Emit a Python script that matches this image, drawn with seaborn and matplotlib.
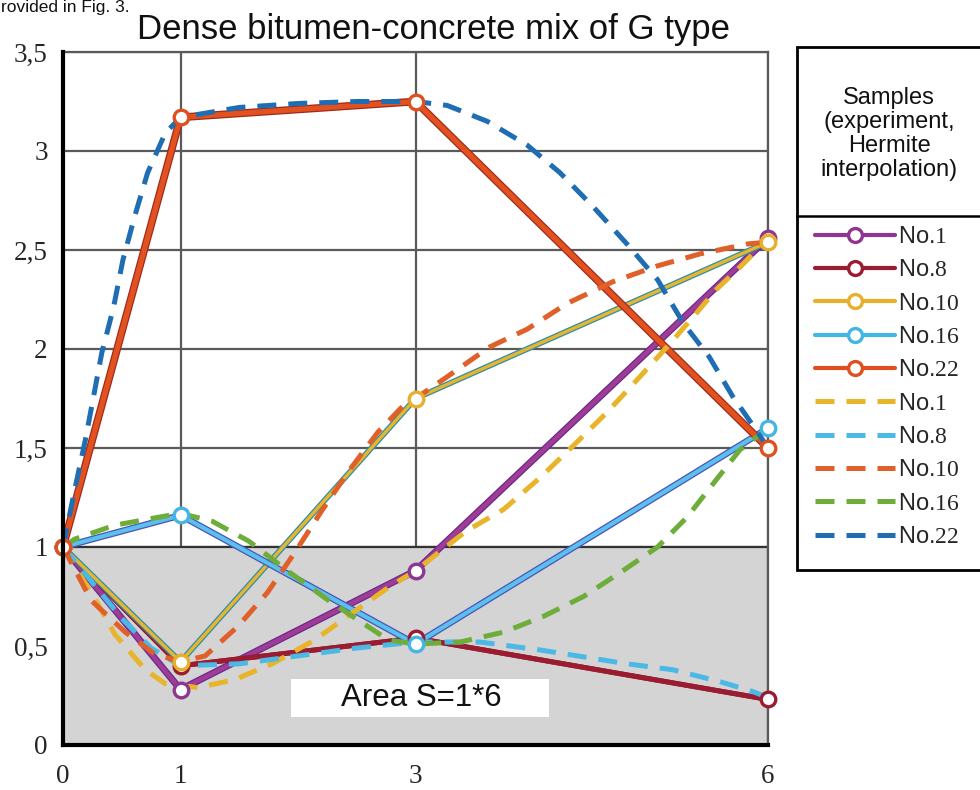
import matplotlib
matplotlib.use("Agg")
import matplotlib.pyplot as plt
import matplotlib.patheffects as pe
from matplotlib.lines import Line2D
from matplotlib.patches import Rectangle
import seaborn as sns
import pandas as pd

# ---------------- data ----------------
x_exp = [0, 1, 3, 6]
exp_no1 = [1.00, 0.28, 0.88, 2.56]
exp_no8 = [1.00, 0.40, 0.54, 0.23]
exp_no10 = [1.00, 0.42, 1.75, 2.54]
exp_no16 = [1.00, 1.16, 0.51, 1.60]
exp_no22 = [1.00, 3.17, 3.25, 1.50]

# Hermite interpolation curves
herm_no1_x = [0, 0.27, 0.44, 0.70, 0.87, 1.15, 1.46, 1.78, 2.14, 2.47, 2.78, 3.0, 3.43, 3.75, 4.06, 4.34, 4.63, 4.91, 5.17, 5.36, 5.56, 5.79, 6]
herm_no1_y = [1.00, 0.74, 0.56, 0.38, 0.31, 0.29, 0.33, 0.41, 0.53, 0.67, 0.80, 0.88, 1.08, 1.19, 1.35, 1.51, 1.68, 1.86, 2.03, 2.16, 2.30, 2.43, 2.56]
herm_no8_x = [0, 0.25, 0.5, 0.75, 1, 1.5, 2, 2.5, 3, 3.55, 4.06, 4.8, 5.19, 5.59, 5.87, 6]
herm_no8_y = [1.00, 0.82, 0.64, 0.49, 0.40, 0.41, 0.45, 0.49, 0.52, 0.52, 0.48, 0.41, 0.38, 0.32, 0.27, 0.24]
herm_no10_x = [0, 0.24, 0.53, 0.78, 1, 1.21, 1.49, 1.74, 1.97, 2.21, 2.44, 2.68, 2.89, 3.0, 3.27, 3.63, 3.95, 4.29, 4.68, 5.06, 5.42, 5.82, 6]
herm_no10_y = [1.00, 0.73, 0.57, 0.46, 0.42, 0.45, 0.60, 0.77, 0.97, 1.19, 1.39, 1.58, 1.71, 1.75, 1.86, 2.01, 2.10, 2.23, 2.34, 2.42, 2.48, 2.53, 2.54]
herm_no16_x = [0, 0.1, 0.44, 0.81, 1, 1.27, 1.58, 1.91, 2.26, 2.54, 2.77, 3.0, 3.38, 3.75, 4.09, 4.43, 4.74, 5.06, 5.31, 5.56, 5.76, 6]
herm_no16_y = [1.00, 1.04, 1.11, 1.15, 1.17, 1.13, 1.03, 0.88, 0.73, 0.62, 0.53, 0.51, 0.52, 0.57, 0.65, 0.75, 0.87, 1.00, 1.15, 1.34, 1.49, 1.60]
herm_no22_x = [0, 0.1, 0.19, 0.33, 0.43, 0.51, 0.61, 0.72, 0.87, 1, 1.5, 2, 2.5, 3, 3.27, 3.61, 3.95, 4.23, 4.51, 4.8, 5.06, 5.28, 5.5, 5.7, 5.9, 6]
herm_no22_y = [1.00, 1.29, 1.54, 1.98, 2.21, 2.45, 2.67, 2.89, 3.09, 3.17, 3.22, 3.24, 3.25, 3.25, 3.23, 3.15, 3.03, 2.89, 2.72, 2.53, 2.35, 2.13, 1.96, 1.76, 1.59, 1.50]

x_ticks = [0, 1, 3, 6]
y_ticks = [0, 0.5, 1, 1.5, 2, 2.5, 3, 3.5]
y_tick_labels = ["0", "0,5", "1", "1,5", "2", "2,5", "3", "3,5"]
sample_names = ["No.1", "No.8", "No.10", "No.16", "No.22"]

title = "Dense bitumen-concrete mix of G type"
legend_title = "Samples\n(experiment,\nHermite\ninterpolation)"
area_label = "Area S=1*6"
top_fragment = "rovided in Fig. 3."

# ---------------- style ----------------
sns.set_style("white")
plt.rcParams["font.family"] = ["Liberation Sans", "DejaVu Sans"]
plt.rcParams["mathtext.fontset"] = "custom"
plt.rcParams["mathtext.rm"] = "Liberation Serif"
plt.rcParams["mathtext.it"] = "Liberation Serif"

exp_colors = ["#8E3690", "#9B1B30", "#E8B02A", "#45B5E5", "#E0501E"]
exp_outer = ["#6A2A8C", "#8A1626", "#2F8FA5", "#4B55B5", "#A02A1E"]
exp_inner = ["#A03C95", "#9B1B30", "#E8B530", "#5BC0EE", "#E2521E"]
exp_w = [(5.0, 3.2), (3.6, 3.6), (4.2, 2.4), (4.8, 3.0), (5.6, 3.8)]
herm_colors = ["#E8B42A", "#4CB8E6", "#E0602A", "#6EAD3A", "#1F6EB4"]

W, H = 980, 790
fig = plt.figure(figsize=(W / 100, H / 100), dpi=100)
ax = fig.add_axes([63 / W, 1 - 745 / H, (768 - 63) / W, (745 - 52) / H])

ax.set_xlim(0, 6)
ax.set_ylim(0, 3.5)

# grid
grid_c = "#5a5a5a"
for yv in y_ticks[1:]:
    ax.axhline(yv, color=grid_c, lw=1.6, zorder=1)
for xv in x_ticks[1:]:
    ax.axvline(xv, color=grid_c, lw=1.6, zorder=1)

# gray area
ax.add_patch(Rectangle((0, 0), 6, 1, facecolor="#D4D4D4", edgecolor="#333333", lw=1.6, zorder=1.5))
ax.add_patch(Rectangle((1.94, 0.14), 2.2, 0.195, facecolor="white", edgecolor="none", zorder=1.6))
ax.text(3.05, 0.237, area_label, ha="center", va="center", fontsize=22.5, color="#111111", zorder=1.7)

exp_series = [exp_no1, exp_no8, exp_no10, exp_no16, exp_no22]
herm_series = [(herm_no1_x, herm_no1_y), (herm_no8_x, herm_no8_y), (herm_no10_x, herm_no10_y),
               (herm_no16_x, herm_no16_y), (herm_no22_x, herm_no22_y)]

# solid experimental lines
for i, ys in enumerate(exp_series):
    ow, iw = exp_w[i]
    sns.lineplot(x=x_exp, y=ys, ax=ax, color=exp_inner[i], lw=iw, sort=False, estimator=None,
                 clip_on=False, zorder=3 + i * 0.1,
                 path_effects=[pe.Stroke(linewidth=ow, foreground=exp_outer[i]), pe.Normal()])

# dashed Hermite curves
for i, (hx, hy) in enumerate(herm_series):
    sns.lineplot(x=hx, y=hy, ax=ax, color=herm_colors[i], lw=3.6, sort=False, estimator=None,
                 linestyle=(0, (3.8, 2.4)), clip_on=False, zorder=4 + i * 0.1)

# markers
for i, ys in enumerate(exp_series):
    sns.scatterplot(x=x_exp, y=ys, ax=ax, marker="o", s=110, facecolor="white",
                    edgecolor=exp_colors[i], linewidth=2.4, zorder=6 + i * 0.1, clip_on=False)

# axes styling
ax.set_xticks(x_ticks)
ax.set_xticklabels([str(v) for v in x_ticks], fontfamily="Liberation Serif", fontsize=19.5)
ax.set_yticks(y_ticks)
ax.set_yticklabels(y_tick_labels, fontfamily="Liberation Serif", fontsize=19.5)
ax.tick_params(axis="both", direction="out", length=7, width=2.5, color="black", pad=4)
ax.tick_params(axis="x", pad=7)
ax.set_xlabel("")
ax.set_ylabel("")
for s in ["left", "bottom"]:
    ax.spines[s].set_color("black")
    ax.spines[s].set_linewidth(3)
    ax.spines[s].set_zorder(7)
for s in ["top", "right"]:
    ax.spines[s].set_color(grid_c)
    ax.spines[s].set_linewidth(1.6)

fig.text(433 / W, 1 - 29 / H, title, ha="center", va="center", fontsize=25, color="#111111")
fig.text(1 / W, 1 - 12 / H, top_fragment, ha="left", va="baseline", fontsize=12.5, color="#111111")

# legend box
fig.add_artist(Rectangle((797 / W, 1 - 570 / H), 200 / W, (570 - 47) / H, transform=fig.transFigure,
                         facecolor="white", edgecolor="black", lw=2, zorder=0.5))
fig.add_artist(Line2D([797 / W, 1.0], [1 - 216 / H, 1 - 216 / H], transform=fig.transFigure,
                      color="black", lw=1.8))
fig.text(889 / W, 1 - 134 / H, legend_title, ha="center", va="center", fontsize=17,
         linespacing=1.13, color="#111111")

handles, labels = [], []
for i, name in enumerate(sample_names):
    handles.append(Line2D([], [], color=exp_colors[i], lw=3, marker="o", markersize=10,
                          markerfacecolor="white", markeredgecolor=exp_colors[i], markeredgewidth=2.4))
    labels.append(r"No.$\mathrm{" + name[3:] + "}$")
for i, name in enumerate(sample_names):
    handles.append(Line2D([], [], color=herm_colors[i], lw=3.6, linestyle=(0, (3.8, 2.4))))
    labels.append(r"No.$\mathrm{" + name[3:] + "}$")

leg = fig.legend(handles, labels, loc="center left", bbox_to_anchor=(815 / W, 1 - 387 / H),
                 frameon=False, fontsize=17, handlelength=3.4, handletextpad=0.12,
                 labelspacing=0.48, borderpad=0, borderaxespad=0)

fig.savefig("out.png", dpi=100)
